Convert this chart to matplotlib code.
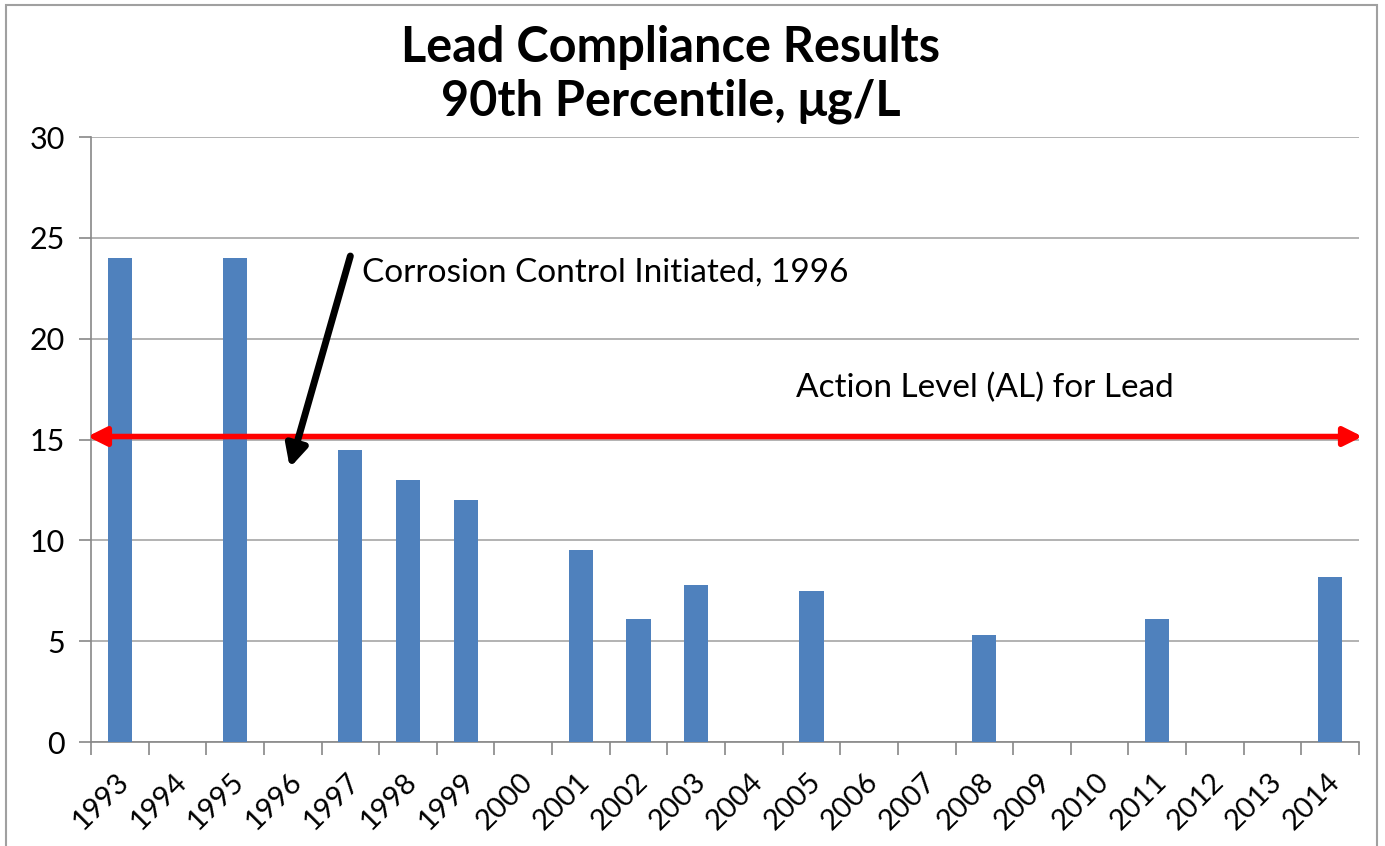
import matplotlib.pyplot as plt
from matplotlib.patches import Rectangle
from matplotlib.transforms import ScaledTranslation

plt.rcParams['font.family'] = ['Lato', 'DejaVu Sans']

# datos
anios = [str(a) for a in range(1993, 2015)]
plomo = [24, 0, 24, 0, 14.5, 13, 12, 0, 9.5, 6.1, 7.8, 0, 7.5, 0, 0, 5.3, 0, 0, 6.1, 0, 0, 8.2]
nivel_accion = 15.15

fig = plt.figure(figsize=(13.85, 8.46), dpi=100)
ax = fig.add_axes([0.0657, 0.1229, 0.9155, 0.7151])

# marco exterior gris
fig.patches.append(Rectangle((0.004, -0.01), 0.99, 1.004, transform=fig.transFigure,
                             fill=False, edgecolor='#a0a0a0', linewidth=1.5))

x = list(range(len(anios)))
ax.bar(x, plomo, width=0.42, color='#4f81bd', zorder=3)

ax.set_xlim(-0.5, len(anios) - 0.5)
ax.set_ylim(0, 30)
ax.set_yticks([0, 5, 10, 15, 20, 25, 30])
ax.yaxis.grid(True, color='#a6a6a6', linewidth=1.2, zorder=0)

ax.set_xticks(x)
ax.set_xticklabels(anios, rotation=45, ha='right', rotation_mode='anchor', fontsize=21)
ax.set_xticks([i - 0.5 for i in range(len(anios) + 1)], minor=True)
ax.tick_params(axis='x', which='major', length=0, pad=19)
ax.tick_params(axis='x', which='minor', length=9, color='#888888', width=1.2)
ax.tick_params(axis='y', length=9, color='#888888', width=1.2, labelsize=22, pad=10)
# correr un poco las etiquetas a la izquierda
desplazar = ScaledTranslation(-0.04, 0, fig.dpi_scale_trans)
for etiqueta in ax.get_xticklabels():
    etiqueta.set_transform(etiqueta.get_transform() + desplazar)

for lado in ['top', 'right']:
    ax.spines[lado].set_visible(False)
ax.spines['left'].set_color('#888888')
ax.spines['bottom'].set_color('#888888')
ax.spines['left'].set_linewidth(1.2)
ax.spines['bottom'].set_linewidth(1.2)

# linea del nivel de accion
ax.annotate('', xy=(-0.56, nivel_accion), xytext=(21.56, nivel_accion),
            arrowprops=dict(arrowstyle='<|-|>', color='#ff0000', lw=4,
                            mutation_scale=28, shrinkA=0, shrinkB=0),
            annotation_clip=False, zorder=4)
ax.text(11.74, 17.55, 'Action Level (AL) for Lead', fontsize=24, va='center', ha='left')

# flecha corrosion
ax.annotate('', xy=(2.95, 13.6), xytext=(4.0, 24.1),
            arrowprops=dict(arrowstyle='-|>', color='black', lw=5,
                            mutation_scale=32, shrinkA=0, shrinkB=0), zorder=5)
ax.text(4.2, 23.3, 'Corrosion Control Initiated, 1996', fontsize=24, va='center', ha='left')

fig.text(0.484, 0.912, 'Lead Compliance Results\n90th Percentile, \u03bcg/L',
         ha='center', va='center', fontsize=35, fontweight='bold', linespacing=1.22)

plt.savefig('out.png')
plt.close()
